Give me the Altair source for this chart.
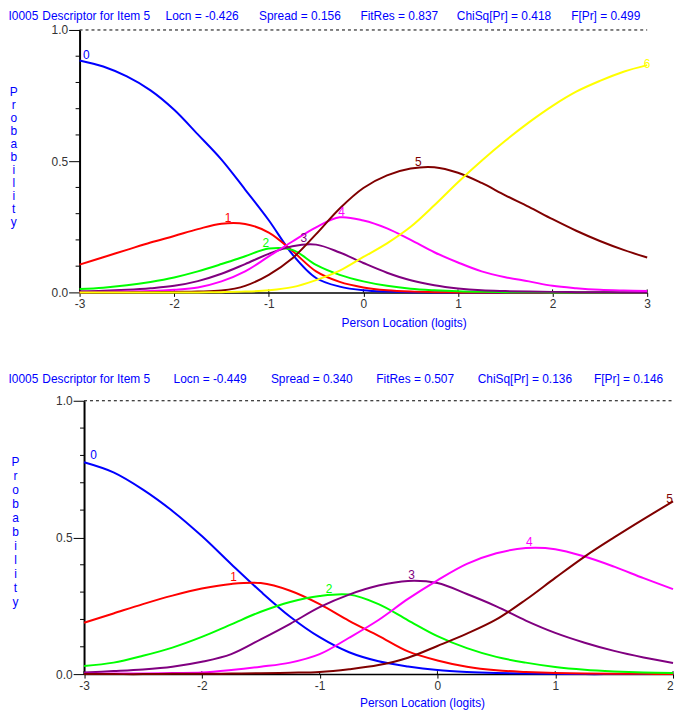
import altair as alt
import pandas as pd

FONT = "Liberation Sans"
TXT_BLUE = "#0000ff"
LBL = "#333333"

categories = ["0", "1", "2", "3", "4", "5", "6"]
curve_colors = ["#0000ff", "#ff0000", "#00ff00", "#800080", "#ff00ff", "#800000", "#ffff00"]

top_title = ["I0005", "Descriptor for Item 5", "Locn = -0.426", "Spread = 0.156",
             "FitRes = 0.837", "ChiSq[Pr] = 0.418", "F[Pr] = 0.499"]
bottom_title = ["I0005", "Descriptor for Item 5", "Locn = -0.449", "Spread = 0.340",
                "FitRes = 0.507", "ChiSq[Pr] = 0.136", "F[Pr] = 0.146"]
y_title_letters = list("Probability")
x_title = "Person Location (logits)"

# ---- top panel (categories 0..6) ----
top_x = [-3.0, -2.75, -2.5, -2.25, -2.0, -1.75, -1.5, -1.25, -1.0, -0.75, -0.5, -0.25, 0.0,
         0.25, 0.5, 0.75, 1.0, 1.25, 1.5, 1.75, 2.0, 2.25, 2.5, 2.75, 3.0]
top_p0 = [0.884, 0.861, 0.823, 0.770, 0.696, 0.602, 0.506, 0.392, 0.275, 0.145, 0.055, 0.022, 0.008,
          0.003, 0.001, 0.0, 0.0, 0.0, 0.0, 0.0, 0.0, 0.0, 0.0, 0.0, 0.0]
top_p1 = [0.106, 0.134, 0.162, 0.190, 0.215, 0.241, 0.262, 0.261, 0.228, 0.158, 0.080, 0.040, 0.019,
          0.008, 0.003, 0.001, 0.0, 0.0, 0.0, 0.0, 0.0, 0.0, 0.0, 0.0, 0.0]
top_p2 = [0.013, 0.018, 0.027, 0.040, 0.057, 0.080, 0.108, 0.138, 0.167, 0.162, 0.105, 0.067, 0.042,
          0.025, 0.014, 0.008, 0.004, 0.002, 0.001, 0.001, 0.0, 0.0, 0.0, 0.0, 0.0]
top_p3 = [0.004, 0.006, 0.010, 0.016, 0.025, 0.043, 0.071, 0.108, 0.147, 0.176, 0.182, 0.152, 0.112,
          0.075, 0.046, 0.027, 0.015, 0.008, 0.005, 0.003, 0.002, 0.001, 0.001, 0.0, 0.0]
top_p4 = [0.001, 0.002, 0.003, 0.005, 0.010, 0.019, 0.042, 0.080, 0.137, 0.194, 0.248, 0.286, 0.274,
          0.244, 0.200, 0.153, 0.114, 0.080, 0.058, 0.042, 0.025, 0.016, 0.010, 0.007, 0.005]
top_p5 = [0.0, 0.0, 0.0, 0.001, 0.002, 0.003, 0.007, 0.025, 0.067, 0.130, 0.222, 0.320, 0.398,
          0.446, 0.472, 0.477, 0.456, 0.417, 0.370, 0.326, 0.279, 0.235, 0.196, 0.162, 0.133]
top_p6 = [0.0, 0.0, 0.0, 0.0, 0.0, 0.0, 0.001, 0.003, 0.008, 0.020, 0.047, 0.083, 0.135,
          0.187, 0.250, 0.332, 0.420, 0.502, 0.578, 0.648, 0.711, 0.765, 0.806, 0.841, 0.866]
top_label_x = [-2.93, -1.43, -1.03, -0.63, -0.23, 0.58, 3.0]
top_label_y = [0.906, 0.285, 0.187, 0.206, 0.307, 0.496, 0.871]
top_x_ticks = [-3, -2, -1, 0, 1, 2, 3]

# ---- bottom panel (categories 0..5) ----
bot_x = [-3.0, -2.75, -2.5, -2.25, -2.0, -1.75, -1.5, -1.25, -1.0, -0.75, -0.5, -0.25, 0.0,
         0.25, 0.5, 0.75, 1.0, 1.25, 1.5, 1.75, 2.0]
bot_p0 = [0.775, 0.738, 0.675, 0.597, 0.505, 0.402, 0.302, 0.210, 0.135, 0.080, 0.047, 0.028, 0.015,
          0.008, 0.004, 0.002, 0.001, 0.0, 0.0, 0.0, 0.0]
bot_p1 = [0.188, 0.222, 0.256, 0.287, 0.313, 0.330, 0.333, 0.305, 0.256, 0.195, 0.140, 0.083, 0.050,
          0.027, 0.014, 0.008, 0.004, 0.002, 0.001, 0.001, 0.0]
bot_p2 = [0.030, 0.042, 0.067, 0.097, 0.136, 0.182, 0.228, 0.264, 0.286, 0.291, 0.256, 0.197, 0.139,
          0.095, 0.063, 0.042, 0.026, 0.016, 0.010, 0.006, 0.004]
bot_p3 = [0.006, 0.011, 0.017, 0.027, 0.045, 0.073, 0.127, 0.184, 0.245, 0.291, 0.324, 0.341, 0.333,
          0.293, 0.248, 0.196, 0.151, 0.115, 0.085, 0.061, 0.041]
bot_p4 = [0.001, 0.002, 0.002, 0.004, 0.006, 0.015, 0.027, 0.042, 0.073, 0.133, 0.198, 0.275, 0.343,
          0.403, 0.442, 0.461, 0.457, 0.430, 0.393, 0.351, 0.311]
bot_p5 = [0.0, 0.0, 0.0, 0.001, 0.001, 0.002, 0.003, 0.005, 0.008, 0.018, 0.033, 0.060, 0.103,
          0.148, 0.200, 0.272, 0.352, 0.430, 0.500, 0.567, 0.632]
bot_label_x = [-2.92, -1.73, -0.92, -0.22, 0.78, 1.97]
bot_label_y = [0.803, 0.357, 0.313, 0.364, 0.485, 0.640]
bot_x_ticks = [-3, -2, -1, 0, 1, 2]

y_major = [0.0, 0.5, 1.0]
y_minor = [0.1, 0.2, 0.3, 0.4, 0.6, 0.7, 0.8, 0.9]

# ---- layout (pixels) ----
ORIGIN = 79.5  # page x of the panels' group origin


def fixed_text(txt, x, y, color=TXT_BLUE, align="left", baseline="top", line_height=None):
    kw = dict(text=txt, align=align, baseline=baseline, font=FONT, fontSize=12, color=color)
    if line_height is not None:
        kw["lineHeight"] = line_height
    return alt.Chart(alt.Data(values=[{"k": 0}])).mark_text(**kw).encode(
        x=alt.value(x), y=alt.value(y))


def panel(xs, series, ticks, lab_x, lab_y, title_texts, title_page_x, title_y,
          width, height, x_off, prob_x, prob_y, prob_lh, xt_x, xt_y, last_right=False):
    cats = categories[:len(series)]
    cols = curve_colors[:len(series)]
    rows = []
    for c, vals in zip(cats, series):
        for xv, pv in zip(xs, vals):
            rows.append({"x": xv, "p": pv, "cat": c})
    df = pd.DataFrame(rows)
    labels = pd.DataFrame({"x": lab_x, "p": lab_y, "cat": cats})

    if last_right:
        label_align = {"condition": {"test": "datum.value == %s" % ticks[-1], "value": "right"},
                       "value": "center"}
    else:
        label_align = "center"

    xscale = alt.Scale(domain=[xs[0], xs[-1]], range=[x_off, width], nice=False, zero=False)
    yscale = alt.Scale(domain=[0, 1], nice=False, zero=False)
    xaxis = alt.Axis(values=ticks, labelExpr="'' + datum.value", tickSize=4, labelPadding=2,
                     domainColor="black", domainWidth=1.5, tickColor="black", tickWidth=1,
                     labelColor=LBL, labelFont=FONT, labelFontSize=12, labelFlush=False,
                     labelAlign=label_align, grid=False, title="")
    yaxis = alt.Axis(values=y_major, format=".1f", tickSize=11, labelPadding=1,
                     domainColor="black", domainWidth=2, tickColor="black", tickWidth=1,
                     labelColor=LBL, labelFont=FONT, labelFontSize=12, labelFlush=False,
                     grid=False, title="", offset=-x_off)
    X = alt.X("x:Q", scale=xscale, axis=xaxis)
    Y = alt.Y("p:Q", scale=yscale, axis=yaxis)
    color = alt.Color("cat:N", scale=alt.Scale(domain=cats, range=cols), legend=None)

    lines = alt.Chart(df).mark_line(strokeWidth=2, interpolate="catmull-rom").encode(
        x=X, y=Y, color=color)
    top_rule = alt.Chart(pd.DataFrame({"p": [1.0]})).mark_rule(
        color="black", strokeWidth=1, strokeDash=[3, 3]).encode(
        y=Y, x=alt.value(x_off), x2=alt.value(width))
    minor = alt.Chart(pd.DataFrame({"p": y_minor})).mark_rule(color="black", strokeWidth=1).encode(
        y=Y, x=alt.value(x_off - 4), x2=alt.value(x_off))
    xin = alt.Chart(pd.DataFrame({"x": ticks})).mark_rule(color="black", strokeWidth=1).encode(
        x=X, y=alt.value(height - 3), y2=alt.value(height))
    lab = alt.Chart(labels).mark_text(font=FONT, fontSize=12, align="center",
                                      baseline="middle").encode(
        x=X, y=Y, text="cat:N", color=color)

    layers = [top_rule, minor, xin, lines, lab]
    for t, px in zip(title_texts, title_page_x):
        layers.append(fixed_text(t, px - ORIGIN, title_y))
    layers.append(fixed_text(y_title_letters, prob_x, prob_y, align="center",
                             baseline="middle", line_height=prob_lh))
    layers.append(fixed_text(x_title, xt_x, xt_y, align="center", baseline="middle"))
    return alt.layer(*layers).properties(width=width, height=height)


top = panel(top_x, [top_p0, top_p1, top_p2, top_p3, top_p4, top_p5, top_p6], top_x_ticks,
            top_label_x, top_label_y, top_title, [8, 42, 166, 260, 362, 459, 574], -19,
            571, 264, 0, 13.3 - ORIGIN, 62, 13.1, 406 - ORIGIN, 295)
bottom = panel(bot_x, [bot_p0, bot_p1, bot_p2, bot_p3, bot_p4, bot_p5], bot_x_ticks,
               bot_label_x, bot_label_y, bottom_title, [8, 42, 174, 272, 378, 480, 597], -27,
               597, 275, 4.5, 15 - ORIGIN, 62, 14, 424.5 - ORIGIN, 304, last_right=True)

chart = alt.vconcat(top, bottom, spacing=109, bounds="flush").properties(
    padding=0).configure_view(strokeWidth=0)

chart.save("out.html", embed_options={"renderer": "svg", "actions": False})
